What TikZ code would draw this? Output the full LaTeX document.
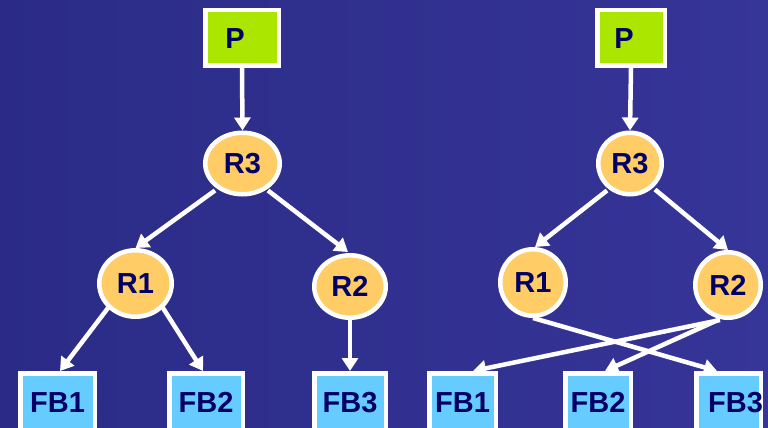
\documentclass[tikz,border=0pt]{standalone}
\usepackage{fontspec}
\setmainfont{Liberation Sans}
\usetikzlibrary{shapes.geometric,arrows.meta,calc}
\definecolor{bgL}{RGB}{43,43,135}
\definecolor{bgR}{RGB}{54,53,152}
\definecolor{pgreen}{RGB}{170,230,0}
\definecolor{rorange}{RGB}{255,204,102}
\definecolor{fbblue}{RGB}{102,204,255}
\definecolor{navy}{RGB}{0,0,102}
\pgfdeclarelayer{bg}
\pgfdeclarelayer{edges}
\pgfsetlayers{bg,edges,main}
\begin{document}
\begin{tikzpicture}[x=1pt,y=-1pt,
  base/.style={draw=white,line width=4.5pt,inner sep=0pt,text=navy,
    text height=20.5pt,text depth=0pt,
    font=\fontsize{29}{29}\selectfont\bfseries},
  pbox/.style={base,rectangle,fill=pgreen,minimum height=55.5pt},
  rnode/.style={base,ellipse,fill=rorange},
  fbbox/.style={base,rectangle,fill=fbblue,minimum height=57.5pt},
  arr/.style={draw=white,line width=4.5pt,-{Triangle[width=16pt,length=13pt]}}]
\useasboundingbox (0,0) rectangle (768,428);
\begin{pgfonlayer}{bg}
\shade[left color=bgL,right color=bgR] (0,0) rectangle (768,428);
\end{pgfonlayer}
% left tree
\node[pbox,minimum width=73.5pt] (P1) at (242,38) {\makebox[0pt]{P\hspace*{14pt}}};
\node[rnode,minimum width=74.5pt,minimum height=61.5pt] (R3a) at (242.5,163.5) {R3};
\node[rnode,minimum width=72.5pt,minimum height=66.5pt] (R1a) at (135.5,283.5) {R1};
\node[rnode,minimum width=71.5pt,minimum height=62.5pt] (R2a) at (350,286.5) {R2};
\node[fbbox,minimum width=74.5pt] (FB1a) at (57.5,402) {FB1};
\node[fbbox,minimum width=73.5pt] (FB2a) at (206,402) {FB2};
\node[fbbox,minimum width=71.5pt] (FB3a) at (350,402) {FB3};
% right tree
\node[pbox,minimum width=67.5pt] (P2) at (631,38) {\makebox[0pt]{P\hspace*{14pt}}};
\node[rnode,minimum width=63.5pt,minimum height=61.5pt] (R3b) at (630,163.5) {R3};
\node[rnode,minimum width=65.5pt,minimum height=66.5pt] (R1b) at (533,282.5) {R1};
\node[rnode,minimum width=65.5pt,minimum height=65.5pt] (R2b) at (728,285) {R2};
\node[fbbox,minimum width=66.5pt] (FB1b) at (462.5,402) {FB1};
\node[fbbox,minimum width=65.5pt] (FB2b) at (598,402) {FB2};
\node[fbbox,minimum width=64.5pt] (FB3b) at (728.5,402) {\makebox[0pt]{\hspace*{14pt}FB3}};
\begin{pgfonlayer}{edges}
\draw[arr] (P1.south) -- (R3a.north);
\draw[arr] ($(R3a)+(-27.5,27)$) -- (R1a.north);
\draw[arr] ($(R3a)+(25.5,27)$) -- ($(R2a.north)+(-2,-1)$);
\draw[arr] ($(R1a)+(-27.5,24.5)$) -- ($(FB1a.north)+(2.5,0)$);
\draw[arr] ($(R1a)+(27.5,24.5)$) -- ($(FB2a.north)+(-3,0)$);
\draw[arr] (R2a.south) -- (FB3a.north);
\draw[arr] (P2.south) -- (R3b.north);
\draw[arr] ($(R3b)+(-23,27)$) -- ($(R1b.north)+(2,0)$);
\draw[arr] ($(R3b)+(25,26)$) -- (R2b.north);
\draw[arr] (R1b.south) -- ($(FB3b.north)+(-11.5,0)$);
\draw[arr] ($(R2b.south)+(-8,0)$) -- ($(FB1b.north)+(10.5,0)$);
\draw[arr] ($(R2b.south)+(-10,0)$) -- ($(FB2b.north)+(7,0)$);
\end{pgfonlayer}
\end{tikzpicture}
\end{document}
